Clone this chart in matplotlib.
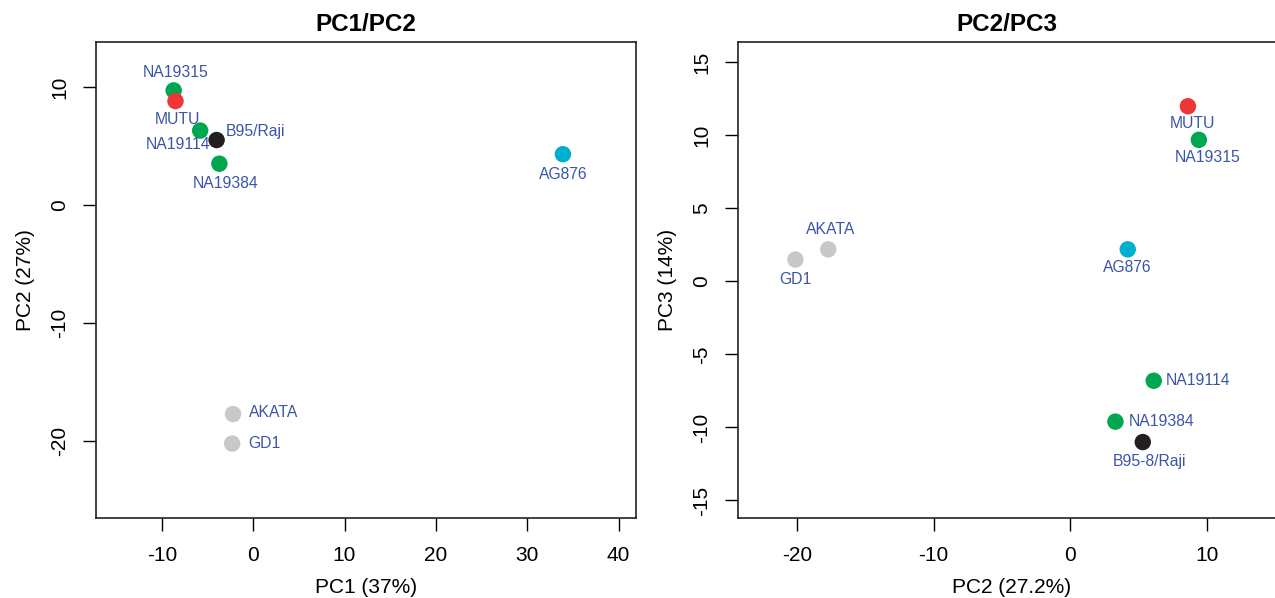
import matplotlib.pyplot as plt

plt.rcParams['font.family'] = ['Liberation Sans', 'DejaVu Sans']
plt.rcParams['axes.unicode_minus'] = False

# sample names and colours
samples = ['NA19315', 'MUTU', 'NA19114', 'B95/Raji', 'NA19384', 'AG876', 'AKATA', 'GD1']
colors = ['#00a650', '#ee3537', '#00a650', '#231f20', '#00a650', '#00aed0', '#c8c8c8', '#c8c8c8']

# PC1/PC2 panel
pc1 = [-8.7, -8.5, -5.8, -4.0, -3.7, 33.9, -2.2, -2.3]
pc2 = [9.7, 8.8, 6.3, 5.5, 3.5, 4.3, -17.7, -20.2]

# PC2/PC3 panel
samples_b = ['NA19315', 'MUTU', 'NA19114', 'B95-8/Raji', 'NA19384', 'AG876', 'AKATA', 'GD1']
pc2_b = [9.4, 8.6, 6.1, 5.3, 3.3, 4.2, -17.7, -20.1]
pc3_b = [9.7, 12.0, -6.8, -11.0, -9.6, 2.2, 2.2, 1.5]

label_blue = '#3a55a8'

# label offsets in pixels (dx, dy, ha)
offs_a = [(2, 18, 'center'), (2, -18, 'center'), (-22, -14, 'center'), (9, 9, 'left'),
          (6, -20, 'center'), (0, -20, 'center'), (16, 2, 'left'), (16, 0, 'left')]
offs_b = [(9, -18, 'center'), (5, -17, 'center'), (12, 0, 'left'), (7, -19, 'center'),
          (13, 0, 'left'), (0, -18, 'center'), (2, 20, 'center'), (0, -20, 'center')]

fig = plt.figure(figsize=(12.75, 5.98), dpi=100)
W, H = 1275, 598
ax1 = fig.add_axes([96 / W, 80 / H, 540 / W, 476 / H])
ax2 = fig.add_axes([738 / W, 80 / H, 547 / W, 476 / H])


def panel(ax, x, y, names, offs, title, xlabel, ylabel):
    ax.scatter(x, y, s=140, c=colors, linewidths=0, zorder=3)
    for xi, yi, name, (dx, dy, ha) in zip(x, y, names, offs):
        ax.annotate(name, (xi, yi), xytext=(dx, dy), textcoords='offset pixels',
                    ha=ha, va='center', color=label_blue, fontsize=11.3)
    ax.set_title(title, fontsize=17.5, fontweight='bold', pad=8)
    ax.set_xlabel(xlabel, fontsize=15, labelpad=9)
    ax.set_ylabel(ylabel, fontsize=15, labelpad=11)
    ax.tick_params(direction='out', length=9.5, width=1, labelsize=15, pad=11)
    ax.tick_params(axis='y', pad=10)
    for lab in ax.get_yticklabels():
        lab.set_rotation(90)
        lab.set_va('center')
    for sp in ax.spines.values():
        sp.set_linewidth(1.2)
        sp.set_color('#222222')


ax1.set_xlim(-17.2, 41.9)
ax1.set_ylim(-26.5, 13.8)
ax1.set_xticks([-10, 0, 10, 20, 30, 40])
ax1.set_yticks([-20, -10, 0, 10])
panel(ax1, pc1, pc2, samples, offs_a, 'PC1/PC2', 'PC1 (37%)', 'PC2 (27%)')

ax2.set_xlim(-24.3, 15.7)
ax2.set_ylim(-16.2, 16.4)
ax2.set_xticks([-20, -10, 0, 10])
ax2.set_yticks([-15, -10, -5, 0, 5, 10, 15])
panel(ax2, pc2_b, pc3_b, samples_b, offs_b, 'PC2/PC3', 'PC2 (27.2%)', 'PC3 (14%)')
ax2.title.set_x(269 / 547)

fig.savefig('out.png', dpi=100)
